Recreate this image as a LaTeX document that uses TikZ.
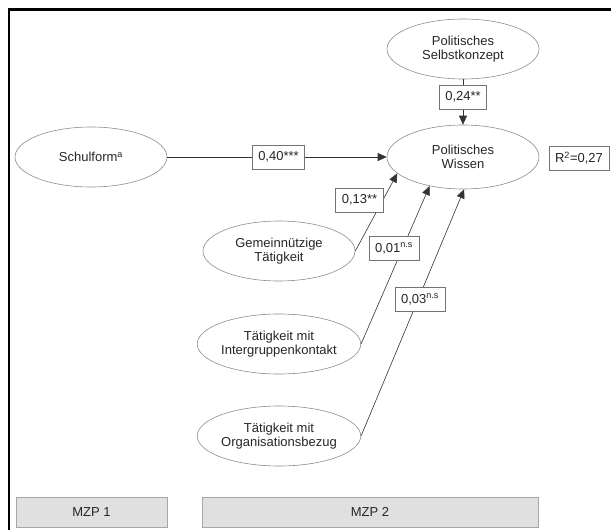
\documentclass[tikz,border=0pt]{standalone}
\usepackage{fontspec}
\setmainfont{Liberation Sans}
\usetikzlibrary{shapes,arrows.meta,positioning}

\begin{document}
\begin{tikzpicture}[x=1pt, y=-1pt, >={Triangle[length=9pt,width=8pt]},
				ellip/.style={draw=black!45, ellipse, line width=0.6pt,
				minimum width=152pt, minimum height=60pt, inner sep=0pt,
				text=black!85, align=center, font=\fontsize{13}{14}\selectfont},
				coef/.style={draw=black!55, rectangle, fill=white, line width=0.6pt,
				minimum height=24pt, inner xsep=6pt, inner ysep=0pt,
				text=black!85, anchor=center, font=\fontsize{13}{14}\selectfont},
				% time points at the bottom
				mzp/.style={draw=black!35, fill=black!12, line width=1pt,
				minimum height=30pt, text=black!85, font=\fontsize{13}{14}\selectfont},
				link/.style={black!80, line width=0.6pt, ->}
				]
\clip (0,0) rectangle (611,530);

%% frame
\draw [line width=2.5pt] (9,560) |- (640,9.5);

%% latent variables
\node [ellip] (selbst) at (463,49) {Politisches\\Selbstkonzept};
\node [ellip, minimum height=64pt] (wissen) at (463,157) {Politisches\\Wissen};
\node [ellip] (schulform) at (91,157) {Schulform\textsuperscript{a}};
\node [ellip] (gemein) at (279,251) {Gemeinnützige\\Tätigkeit};
\node [ellip] (inter) at (279,344) {Tätigkeit mit\\Intergruppenkontakt};
\node [ellip] (orga) at (279,436) {Tätigkeit mit\\Organisationsbezug};

%% paths
\draw [link] (selbst) -- (wissen);
\draw [link] (schulform) -- (wissen);
\draw [link] (gemein.east) -- (wissen.194);
\draw [link] (inter.east) -- (wissen.221);
\draw [link] (orga.east) -- (wissen.272);

%% coefficients
\node [coef] (c24) at (463,97) {0,24**};
\node [coef] (c40) at (278.5,157) {0,40***};
\node [coef] (c13) at (359.5,200) {0,13**};
\node [coef] (c01) at (394,248.5) {0,01\textsuperscript{n.s}};
\node [coef] (c03) at (420,299.5) {0,03\textsuperscript{n.s}};
\node [coef] (rsq) at (579,158) {R\textsuperscript{2}=0,27};

%% measurement points
\node [mzp, minimum width=151pt] (mzp1) at (91.5,512) {MZP 1};
\node [mzp, minimum width=336pt] (mzp2) at (370,512) {MZP 2};

\end{tikzpicture}
\end{document}
